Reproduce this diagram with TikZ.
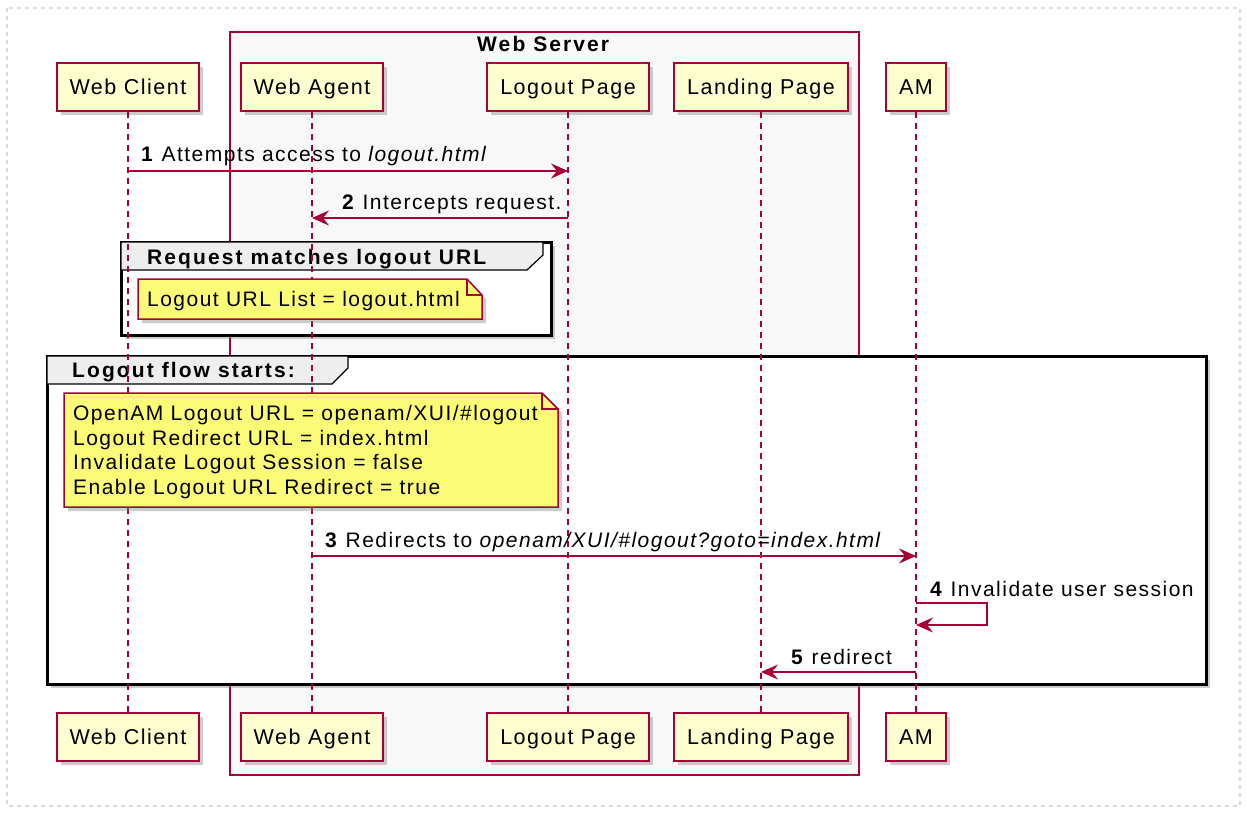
\documentclass[tikz,border=0pt]{standalone}
\usepackage{fontspec}
\setmainfont{Liberation Sans}[LetterSpace=7]
\usetikzlibrary{arrows.meta,shadows}
\definecolor{umlred}{HTML}{A80036}
\definecolor{partfill}{HTML}{FEFECE}
\definecolor{notefill}{HTML}{FBFB77}
\definecolor{srvfill}{HTML}{F8F8F8}
\definecolor{grpfill}{HTML}{EEEEEE}
\begin{document}
\begin{tikzpicture}[x=1pt,y=-1pt,
    font=\fontsize{21}{24.5}\selectfont,
    shade/.style={drop shadow={shadow xshift=4pt,shadow yshift=-4pt,opacity=.4}},
    part/.style={draw=umlred,line width=2pt,fill=partfill,minimum height=48pt,text height=17.5pt,text depth=2.5pt,inner xsep=13pt,font=\fontsize{21.5}{24.5}\selectfont,shade},
    life/.style={draw=umlred,line width=1.2pt,dash pattern=on 6pt off 5pt},
    msg/.style={draw=umlred,line width=1.5pt,-{Stealth[length=17pt,width=15pt,inset=6pt]}},
    lbl/.style={anchor=base west,inner sep=0pt},
    head/.style={anchor=base west,inner sep=0pt,font=\fontsize{21}{24.5}\selectfont\bfseries\addfontfeatures{LetterSpace=10}},
    frame/.style={draw=black,line width=3pt,fill=white,shade},
    tab/.style={draw=black,line width=1.2pt,fill=grpfill},
    note/.style={draw=umlred,line width=1.5pt,fill=notefill,shade}]
    \useasboundingbox (0,0) rectangle (1247,813);
    \draw[black!15,line width=1.5pt,dash pattern=on 4pt off 4pt] (7,8) rectangle (1240,806);

    %Web Server box
    \filldraw[fill=srvfill,draw=umlred,line width=1.5pt] (230,32) rectangle (859,775);
    \node[head] (srv) at (477,52) {Web Server};

    %groups
    \filldraw[frame] (121,242) rectangle (551,335);
    \filldraw[tab] (121,242) -- (543,242) -- (543,255) -- (527,270) -- (121,270) -- cycle;
    \node[head] (g1) at (147,264) {Request matches logout URL};
    \filldraw[frame] (47,356) rectangle (1206,684);
    \filldraw[tab] (47,356) -- (348,356) -- (348,368) -- (332,384) -- (47,384) -- cycle;
    \node[head] (g2) at (72,377) {Logout flow starts:};

    %participants
    \node[part] (wc) at (128,87) {Web Client};
    \node[part] (wa) at (312,87) {Web Agent};
    \node[part] (lo) at (568,87) {Logout Page};
    \node[part] (la) at (761,87) {Landing Page};
    \node[part] (am) at (916,87) {AM};
    \node[part] (wcB) at (128,737) {Web Client};
    \node[part] (waB) at (312,737) {Web Agent};
    \node[part] (loB) at (568,737) {Logout Page};
    \node[part] (laB) at (761,737) {Landing Page};
    \node[part] (amB) at (916,737) {AM};
    \draw[life] (wc) -- (wcB);
    \draw[life] (wa) -- (waB);
    \draw[life] (lo) -- (loB);
    \draw[life] (la) -- (laB);
    \draw[life] (am) -- (amB);

    %notes
    \filldraw[note] (138,279) -- (467,279) -- (482,295) -- (482,319) -- (138,319) -- cycle;
    \draw[umlred,line width=1.2pt] (467,279) -- (467,295) -- (482,295);
    \node[lbl] (n1) at (147,306) {Logout URL List = logout.html};
    \filldraw[note] (64,393) -- (542,393) -- (558,409) -- (558,507) -- (64,507) -- cycle;
    \draw[umlred,line width=1.2pt] (542,393) -- (542,409) -- (558,409);
    \node[lbl,align=left] (n2) at (73,494) {OpenAM Logout URL = openam/XUI/\#logout\\
        Logout Redirect URL = index.html\\
        Invalidate Logout Session = false\\
        Enable Logout URL Redirect = true};

    %messages
    \draw[msg] (wc |- 0,171) -- (lo |- 0,171);
    \node[lbl] (m1) at (141,162) {\textbf{1} Attempts access to \textit{logout.html}};
    \draw[msg] (lo |- 0,218) -- (wa |- 0,218);
    \node[lbl] (m2) at (342,209) {\textbf{2} Intercepts request.};
    \draw[msg] (wa |- 0,556) -- (am |- 0,556);
    \node[lbl] (m3) at (325,547) {\textbf{3} Redirects to \textit{openam/XUI/\#logout?goto=index.html}};
    \draw[msg] (am |- 0,603) -- (987,603) -- (987,625) -- (am |- 0,625);
    \node[lbl] (m4) at (930,596) {\textbf{4} Invalidate user session};
    \draw[msg] (am |- 0,672) -- (la |- 0,672);
    \node[lbl] (m5) at (791,664) {\textbf{5} redirect};
\end{tikzpicture}
\end{document}
